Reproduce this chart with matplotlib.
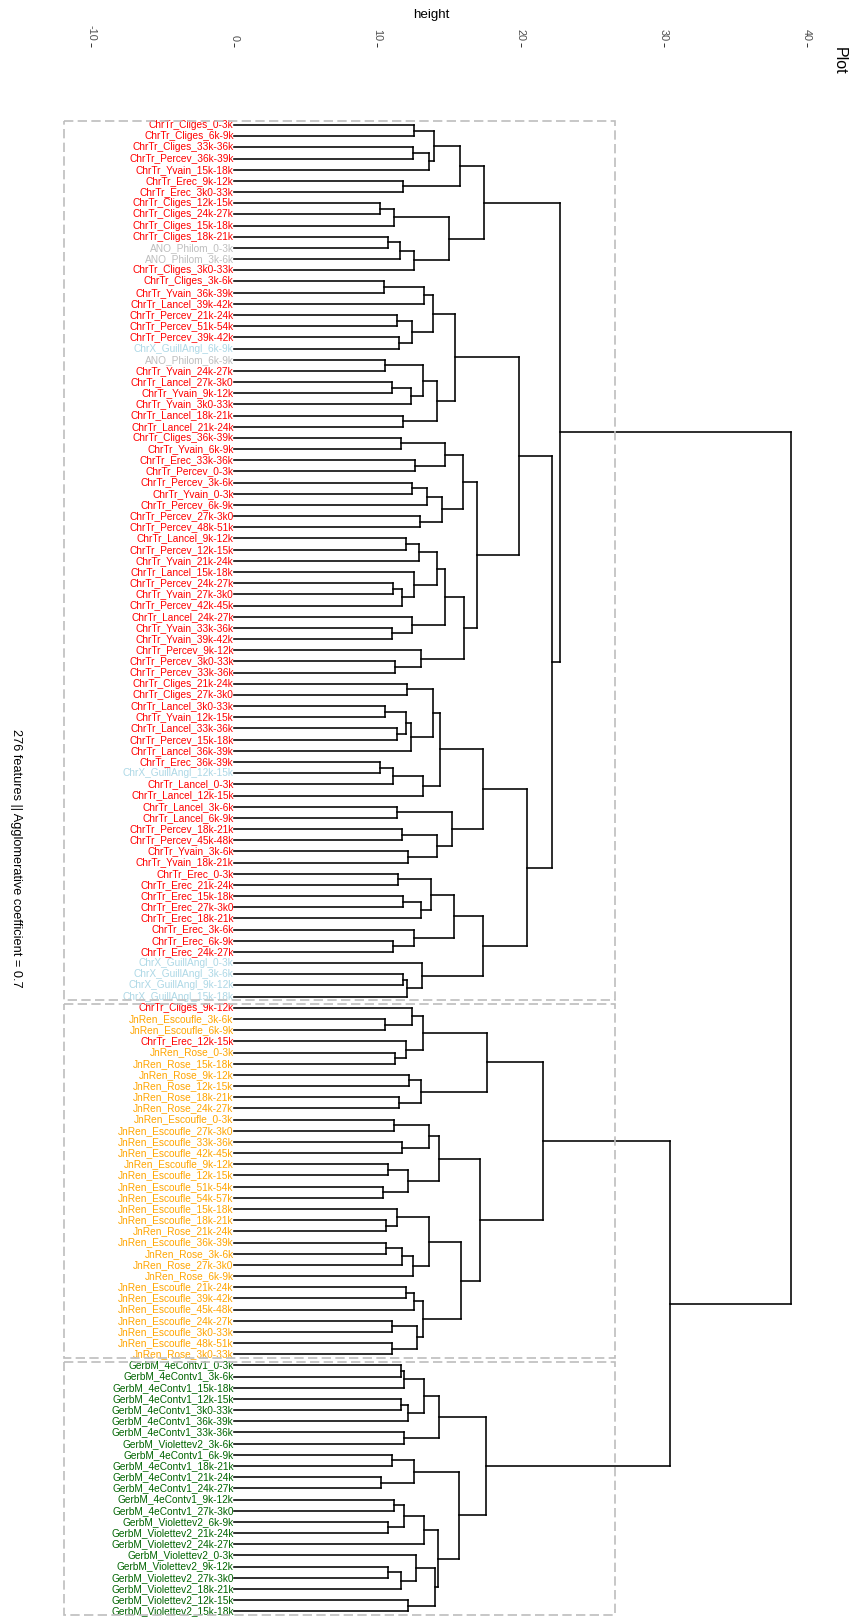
import matplotlib
matplotlib.use("Agg")
import matplotlib.pyplot as plt
from matplotlib.collections import LineCollection
from matplotlib.patches import Rectangle

# ---------------- data ----------------
leaf_labels = [
    "ChrTr_Cliges_0-3k", "ChrTr_Cliges_6k-9k", "ChrTr_Cliges_33k-36k", "ChrTr_Percev_36k-39k",
    "ChrTr_Yvain_15k-18k", "ChrTr_Erec_9k-12k", "ChrTr_Erec_3k0-33k", "ChrTr_Cliges_12k-15k",
    "ChrTr_Cliges_24k-27k", "ChrTr_Cliges_15k-18k", "ChrTr_Cliges_18k-21k", "ANO_Philom_0-3k",
    "ANO_Philom_3k-6k", "ChrTr_Cliges_3k0-33k", "ChrTr_Cliges_3k-6k", "ChrTr_Yvain_36k-39k",
    "ChrTr_Lancel_39k-42k", "ChrTr_Percev_21k-24k", "ChrTr_Percev_51k-54k", "ChrTr_Percev_39k-42k",
    "ChrX_GuillAngl_6k-9k", "ANO_Philom_6k-9k", "ChrTr_Yvain_24k-27k", "ChrTr_Lancel_27k-3k0",
    "ChrTr_Yvain_9k-12k", "ChrTr_Yvain_3k0-33k", "ChrTr_Lancel_18k-21k", "ChrTr_Lancel_21k-24k",
    "ChrTr_Cliges_36k-39k", "ChrTr_Yvain_6k-9k", "ChrTr_Erec_33k-36k", "ChrTr_Percev_0-3k",
    "ChrTr_Percev_3k-6k", "ChrTr_Yvain_0-3k", "ChrTr_Percev_6k-9k", "ChrTr_Percev_27k-3k0",
    "ChrTr_Percev_48k-51k", "ChrTr_Lancel_9k-12k", "ChrTr_Percev_12k-15k", "ChrTr_Yvain_21k-24k",
    "ChrTr_Lancel_15k-18k", "ChrTr_Percev_24k-27k", "ChrTr_Yvain_27k-3k0", "ChrTr_Percev_42k-45k",
    "ChrTr_Lancel_24k-27k", "ChrTr_Yvain_33k-36k", "ChrTr_Yvain_39k-42k", "ChrTr_Percev_9k-12k",
    "ChrTr_Percev_3k0-33k", "ChrTr_Percev_33k-36k", "ChrTr_Cliges_21k-24k", "ChrTr_Cliges_27k-3k0",
    "ChrTr_Lancel_3k0-33k", "ChrTr_Yvain_12k-15k", "ChrTr_Lancel_33k-36k", "ChrTr_Percev_15k-18k",
    "ChrTr_Lancel_36k-39k", "ChrTr_Erec_36k-39k", "ChrX_GuillAngl_12k-15k", "ChrTr_Lancel_0-3k",
    "ChrTr_Lancel_12k-15k", "ChrTr_Lancel_3k-6k", "ChrTr_Lancel_6k-9k", "ChrTr_Percev_18k-21k",
    "ChrTr_Percev_45k-48k", "ChrTr_Yvain_3k-6k", "ChrTr_Yvain_18k-21k", "ChrTr_Erec_0-3k",
    "ChrTr_Erec_21k-24k", "ChrTr_Erec_15k-18k", "ChrTr_Erec_27k-3k0", "ChrTr_Erec_18k-21k",
    "ChrTr_Erec_3k-6k", "ChrTr_Erec_6k-9k", "ChrTr_Erec_24k-27k", "ChrX_GuillAngl_0-3k",
    "ChrX_GuillAngl_3k-6k", "ChrX_GuillAngl_9k-12k", "ChrX_GuillAngl_15k-18k", "ChrTr_Cliges_9k-12k",
    "JnRen_Escoufle_3k-6k", "JnRen_Escoufle_6k-9k", "ChrTr_Erec_12k-15k", "JnRen_Rose_0-3k",
    "JnRen_Rose_15k-18k", "JnRen_Rose_9k-12k", "JnRen_Rose_12k-15k", "JnRen_Rose_18k-21k",
    "JnRen_Rose_24k-27k", "JnRen_Escoufle_0-3k", "JnRen_Escoufle_27k-3k0", "JnRen_Escoufle_33k-36k",
    "JnRen_Escoufle_42k-45k", "JnRen_Escoufle_9k-12k", "JnRen_Escoufle_12k-15k", "JnRen_Escoufle_51k-54k",
    "JnRen_Escoufle_54k-57k", "JnRen_Escoufle_15k-18k", "JnRen_Escoufle_18k-21k", "JnRen_Rose_21k-24k",
    "JnRen_Escoufle_36k-39k", "JnRen_Rose_3k-6k", "JnRen_Rose_27k-3k0", "JnRen_Rose_6k-9k",
    "JnRen_Escoufle_21k-24k", "JnRen_Escoufle_39k-42k", "JnRen_Escoufle_45k-48k", "JnRen_Escoufle_24k-27k",
    "JnRen_Escoufle_3k0-33k", "JnRen_Escoufle_48k-51k", "JnRen_Rose_3k0-33k", "GerbM_4eContv1_0-3k",
    "GerbM_4eContv1_3k-6k", "GerbM_4eContv1_15k-18k", "GerbM_4eContv1_12k-15k", "GerbM_4eContv1_3k0-33k",
    "GerbM_4eContv1_36k-39k", "GerbM_4eContv1_33k-36k", "GerbM_Violettev2_3k-6k", "GerbM_4eContv1_6k-9k",
    "GerbM_4eContv1_18k-21k", "GerbM_4eContv1_21k-24k", "GerbM_4eContv1_24k-27k", "GerbM_4eContv1_9k-12k",
    "GerbM_4eContv1_27k-3k0", "GerbM_Violettev2_6k-9k", "GerbM_Violettev2_21k-24k", "GerbM_Violettev2_24k-27k",
    "GerbM_Violettev2_0-3k", "GerbM_Violettev2_9k-12k", "GerbM_Violettev2_27k-3k0", "GerbM_Violettev2_18k-21k",
    "GerbM_Violettev2_12k-15k", "GerbM_Violettev2_15k-18k",
]

# merges (scipy-style ids: leaves 0..133, merge k gets id 134+k)
merge_a = [0, 2, 135, 134, 5, 137, 7, 140, 10, 142, 143, 141, 139,
           14, 147, 17, 19, 149, 148, 21, 23, 154, 153, 26, 156, 152,
           28, 30, 160, 32, 163, 35, 164, 162,
           37, 168, 41, 170, 40, 169, 45, 44, 173, 48, 47, 176, 167, 159,
           50, 52, 54, 183, 185, 182, 57, 188, 189, 187,
           61, 63, 65, 193, 192, 191,
           67, 69, 199, 198, 73, 72, 201, 76, 205, 75, 204, 197, 181, 146,
           80, 79, 83, 82, 213, 85, 87, 217, 216,
           89, 91, 221, 93, 95, 224, 223, 98, 97, 100, 230, 231, 229,
           104, 234, 107, 109, 236, 235, 233, 227, 220,
           111, 243, 114, 245, 244, 117, 247, 119, 121, 250,
           123, 125, 253, 255, 129, 257, 128, 132, 259, 256, 252, 249,
           242, 211]
merge_b = [1, 3, 4, 136, 6, 138, 8, 9, 11, 12, 13, 144, 145,
           15, 16, 18, 20, 150, 151, 22, 24, 25, 155, 27, 157, 158,
           29, 31, 161, 33, 34, 36, 165, 166,
           38, 39, 42, 43, 171, 172, 46, 174, 175, 49, 177, 178, 179, 180,
           51, 53, 55, 184, 56, 186, 58, 59, 60, 190,
           62, 64, 66, 194, 195, 196,
           68, 70, 71, 200, 74, 202, 203, 77, 78, 206, 207, 208, 209, 210,
           81, 212, 84, 214, 215, 86, 88, 218, 219,
           90, 92, 222, 94, 96, 225, 226, 99, 228, 101, 102, 103, 232,
           105, 106, 108, 110, 237, 238, 239, 240, 241,
           112, 113, 115, 116, 246, 118, 248, 120, 122, 251,
           124, 126, 254, 127, 130, 131, 258, 133, 260, 261, 262, 263,
           264, 265]
merge_h = [12.55, 12.51, 13.60, 13.95, 11.81, 15.77, 10.18, 11.16, 10.71, 11.58, 12.55, 15.02, 17.45,
           10.46, 13.25, 11.39, 11.53, 12.44, 13.91, 10.50, 11.02, 12.37, 13.16, 11.81, 14.14, 15.44,
           11.62, 12.62, 14.74, 12.39, 13.49, 12.97, 14.53, 15.96,
           11.99, 12.92, 11.11, 11.69, 12.55, 14.14, 11.00, 12.41, 14.72, 11.23, 13.02, 16.07, 16.97, 19.89,
           12.04, 10.50, 11.39, 11.99, 12.32, 13.91, 10.18, 11.11, 13.16, 14.37,
           11.39, 11.69, 12.16, 14.14, 15.19, 17.40,
           11.46, 11.81, 13.04, 13.72, 11.06, 12.58, 15.35, 11.81, 12.09, 13.11, 17.38, 20.43, 22.18, 22.76,
           10.50, 12.39, 11.23, 11.99, 13.21, 12.23, 11.53, 13.04, 17.63,
           11.16, 11.69, 13.58, 10.71, 10.36, 12.11, 14.32, 10.60, 11.39, 10.60, 11.74, 12.51, 13.63,
           11.99, 12.55, 10.99, 10.99, 12.74, 13.21, 15.84, 17.17, 21.55,
           11.62, 11.86, 11.62, 12.11, 13.28, 11.86, 14.32, 10.99, 10.23, 12.58,
           11.18, 10.76, 11.86, 13.28, 10.76, 11.62, 12.67, 12.11, 14.02, 14.21, 15.70, 17.56,
           30.45, 38.90]

cluster_sizes = [79, 32, 23]
group_prefixes = ["ChrTr", "ANO", "ChrX", "JnRen", "GerbM"]
group_colors = ["#FF0000", "#BEBEBE", "#ADD8E6", "#FFA500", "#006400"]
height_ticks = [-10, 0, 10, 20, 30, 40]
height_tick_labels = ["-10", "0", "10", "20", "30", "40"]
n_features = 276
agglomerative_coef = 0.7
plot_title = "Plot"
height_title = "height"

# ---------------- layout ----------------
W, H = 853, 1618
FONT = "Liberation Sans"
plt.rcParams["font.family"] = [FONT, "DejaVu Sans"]

fig = plt.figure(figsize=(W / 100, H / 100), dpi=100)
fig.patch.set_facecolor("white")

zero_px, px_per_unit = 234.4, 14.306        # height axis (horizontal)
leaf0_px, px_per_leaf = 125.0, 11.175        # leaf axis (vertical)
ax_left_px, ax_right_px, ax_top_px = 45.5, 825.5, 47.0

ax = fig.add_axes([ax_left_px / W, 0.0, (ax_right_px - ax_left_px) / W, (H - ax_top_px) / H])
ax.set_xlim((ax_left_px - zero_px) / px_per_unit, (ax_right_px - zero_px) / px_per_unit)
ax.set_ylim((H - leaf0_px) / px_per_leaf, (ax_top_px - leaf0_px) / px_per_leaf)
for s in ax.spines.values():
    s.set_visible(False)
ax.set_facecolor("white")

# ---------------- dendrogram ----------------
n = len(leaf_labels)
pos = {i: float(i) for i in range(n)}
hgt = {i: 0.0 for i in range(n)}
segs = []
for k, (a, b, h) in enumerate(zip(merge_a, merge_b, merge_h)):
    node = n + k
    pos[node] = (pos[a] + pos[b]) / 2.0
    hgt[node] = h
    for c in (a, b):
        segs.append([(hgt[c], pos[c]), (h, pos[c])])
    segs.append([(h, pos[a]), (h, pos[b])])

lc = LineCollection(segs, colors="black", linewidths=1.15, capstyle="projecting", zorder=2)
ax.add_collection(lc)

# leaf labels
for i, lab in enumerate(leaf_labels):
    col = group_colors[[lab.startswith(p) for p in group_prefixes].index(True)]
    ax.text(-0.06, i, lab, ha="right", va="center", fontsize=7.3, color=col,
            family=FONT, zorder=3)

# cluster rectangles (cut between 2nd and 3rd highest merges)
top_h = sorted(merge_h, reverse=True)
rect_right = (top_h[1] + top_h[2]) / 2.0
rect_left = -11.9
start = 0
for size in cluster_sizes:
    ax.add_patch(Rectangle((rect_left, start - 0.34), rect_right - rect_left, size - 1 + 0.67,
                           fill=False, edgecolor="#BEBEBE", linewidth=1.2,
                           linestyle=(0, (5.6, 2.6)), zorder=4))
    start += size

# axis ticks (height axis on top)
ax.xaxis.tick_top()
ax.set_xticks(height_ticks)
ax.set_xticklabels(height_tick_labels, rotation=-90, fontsize=7.8, color="#4D4D4D", family=FONT)
ax.tick_params(axis="x", which="both", top=True, bottom=False, length=2.9, width=0.7,
               color="#333333", pad=1.6)
ax.set_yticks([])

# titles
fig.text(431 / W, 1 - 15 / H, height_title, ha="center", va="center", fontsize=9.6,
         color="black", family=FONT)
fig.text(839 / W, 1 - 47 / H, plot_title, ha="center", va="top", rotation=-90,
         fontsize=11.5, color="black", family=FONT)
fig.text(15.5 / W, 1 - 858 / H,
         f"{n_features} features || Agglomerative coefficient = {agglomerative_coef}",
         ha="center", va="center", rotation=-90, fontsize=9.2, color="black", family=FONT)

fig.savefig("out.png", dpi=100, facecolor="white")
